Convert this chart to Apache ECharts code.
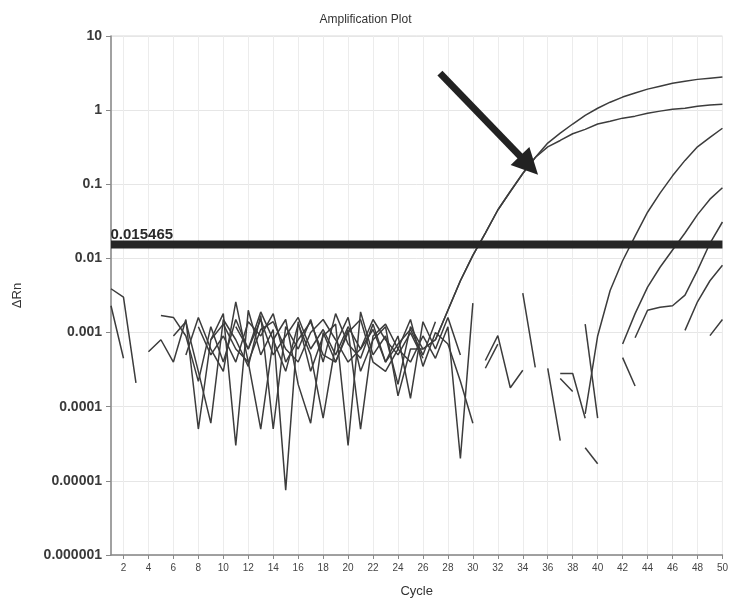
<!DOCTYPE html>
<html>
<head>
<meta charset="utf-8">
<script src="https://cdn.jsdelivr.net/npm/echarts@6/dist/echarts.min.js"></script>
<style>
html,body{margin:0;padding:0;background:#fff;}
#chart{width:731px;height:604px;}
</style>
</head>
<body>
<div id="chart"></div>
<script>
const cycles = ['1','2','3','4','5','6','7','8','9','10','11','12','13','14','15','16','17','18','19','20','21','22','23','24','25','26','27','28','29','30','31','32','33','34','35','36','37','38','39','40','41','42','43','44','45','46','47','48','49','50'];
const threshold = 0.015465;
const thresholdSpan = [1, 50];
const arrowStart = [27.36, 3.16];
const arrowEnd = [34.5, 0.18];

const sampleA1 = [0.0039, 0.0030, 0.00021, null, 0.0017, 0.0016, 0.0009, 0.00022, 0.0012, 0.0004,
  0.0015, 0.0006, 0.0019, 0.0008, 0.0003, 0.0013, 0.0005, 0.00007, 0.0007, 0.0016,
  0.0003, 0.0008, 0.0012, 0.00014, 0.0006, 0.0006, 0.0008, 0.002, 0.005, 0.011,
  0.022, 0.045, 0.08, 0.14, 0.23, 0.36, 0.49, 0.65, 0.85, 1.06,
  1.28, 1.5, 1.7, 1.92, 2.1, 2.3, 2.46, 2.6, 2.7, 2.8];
const sampleA2 = [0.0023, 0.00045, null, 0.00055, 0.0008, 0.0004, 0.0015, 0.00005, 0.0008, 0.0018,
  0.00003, 0.0020, 0.0005, 0.0011, 0.0000075, 0.0014, 0.0003, 0.0009, 0.0013, 0.00003,
  0.0019, 0.0005, 0.0009, 0.0002, 0.0012, 0.0006, 0.0008, 0.002, 0.005, 0.011,
  0.022, 0.045, 0.08, 0.14, 0.23, 0.32, 0.39, 0.48, 0.55, 0.65,
  0.71, 0.78, 0.83, 0.91, 0.97, 1.03, 1.06, 1.13, 1.17, 1.2];
const sampleB = [null, null, null, null, null, 0.0009, 0.0014, 0.0003, 0.00006, 0.0015,
  0.0008, 0.00035, 0.0017, 0.00005, 0.0012, 0.0006, 0.0015, 0.0004, 0.0018, 0.0007,
  0.00045, 0.0013, 0.0004, 0.0009, 0.00013, 0.0014, 0.0006, 0.0016, 0.0005, null,
  0.00033, 0.0007, null, null, null, null, null, null, 0.00008, 0.0009,
  0.0037, 0.0093, 0.02, 0.042, 0.076, 0.13, 0.21, 0.32, 0.43, 0.57];
const sampleC = [null, null, null, null, null, null, 0.0005, 0.0016, 0.0006, 0.0003,
  0.0026, 0.0004, 0.00005, 0.0008, 0.0015, 0.0002, 0.00006, 0.0010, 0.0004, 0.0011,
  0.00005, 0.0009, 0.0013, 0.0006, 0.0015, 0.00035, 0.0010, 0.0007, 0.00022, 0.00006,
  null, null, null, 0.0034, 0.00034, null, null, null, null, null,
  null, 0.0007, 0.0018, 0.0041, 0.0076, 0.013, 0.022, 0.039, 0.063, 0.09];
const sampleD = [null, null, null, null, null, null, null, 0.0012, 0.0005, 0.0009,
  0.0004, 0.0014, 0.0009, 0.0018, 0.0004, 0.0008, 0.0014, 0.0005, 0.0004, 0.0010,
  0.0015, 0.0004, 0.0003, 0.0006, 0.0004, 0.0009, 0.00045, 0.0012, 0.00002, 0.0025,
  null, null, null, null, null, 0.00033, 0.000035, null, null, null,
  null, null, 0.00085, 0.0020, 0.0022, 0.0023, 0.0032, 0.0069, 0.016, 0.031];
const sampleE = [null, null, null, null, null, null, null, null, 0.0008, 0.0013,
  0.0006, 0.0004, 0.0011, 0.0014, 0.0006, 0.0004, 0.0010, 0.0015, 0.0008, 0.0004,
  0.0006, 0.0011, 0.0004, 0.0007, 0.0011, 0.0005, 0.0014, null, null, null,
  0.00042, 0.00091, 0.00018, 0.00031, null, null, 0.00028, 0.00028, 0.00007, null,
  null, null, null, null, null, null, 0.00107, 0.0026, 0.005, 0.0081];
const sampleF = [null, null, null, null, null, null, null, null, null, null,
  0.0012, 0.0006, 0.0015, 0.0005, 0.0009, 0.0016, 0.0006, 0.0011, 0.0005, 0.0012,
  0.0006, 0.0015, 0.0008, 0.0005, 0.0010, 0.00045, null, null, null, null,
  null, null, null, null, null, null, 0.00024, 0.00016, null, null,
  null, 0.00046, 0.00019, null, null, null, null, null, 0.00091, 0.0015];
const sampleG = [null, null, null, null, null, null, null, null, null, null,
  null, null, null, null, null, null, null, null, null, null,
  null, null, null, null, null, null, null, null, null, null,
  null, null, null, null, null, null, null, null, 0.0013, 0.00007,
  null, null, null, null, null, null, null, null, null, null];
const sampleH = [null, null, null, null, null, null, null, null, null, null,
  null, null, null, null, null, null, null, null, null, null,
  null, null, null, null, null, null, null, null, null, null,
  null, null, null, null, null, null, null, null, 0.000028, 0.000017,
  null, null, null, null, null, null, null, null, null, null];

const samples = [sampleA1, sampleA2, sampleB, sampleC, sampleD, sampleE, sampleF, sampleG, sampleH];

const chart = echarts.init(document.getElementById('chart'), null, {renderer: 'canvas'});
const evenOnly = (i, v) => (+v) % 2 === 0;
const fmt = v => {
  const d = Math.max(0, -Math.round(Math.log10(v)));
  return v.toFixed(d);
};
const FONT = 'Liberation Sans, Arial, sans-serif';

const series = samples.map(arr => ({
  type: 'line',
  data: arr,
  showSymbol: false,
  symbol: 'none',
  connectNulls: false,
  silent: true,
  lineStyle: {color: '#3c3c3c', width: 1.5},
  z: 3
}));

// threshold line
series.push({
  type: 'line',
  xAxisIndex: 1,
  data: [[thresholdSpan[0], threshold], [thresholdSpan[1], threshold]],
  symbol: 'none',
  silent: true,
  lineStyle: {color: '#262626', width: 8},
  z: 4,
  markPoint: {
    silent: true,
    animation: false,
    symbol: 'rect',
    symbolSize: [1, 1],
    itemStyle: {color: 'transparent'},
    data: [{
      coord: [thresholdSpan[0], threshold],
      label: {
        show: true,
        formatter: '0.015465',
        position: 'right',
        offset: [-6, -10],
        color: '#2a2a2a',
        fontSize: 15,
        fontWeight: 'bold',
        fontFamily: FONT
      }
    }]
  }
});

// arrow annotation
series.push({
  type: 'line',
  xAxisIndex: 1,
  data: [arrowStart, arrowEnd],
  symbol: 'none',
  silent: true,
  lineStyle: {width: 0, opacity: 0},
  z: 6,
  markLine: {
    silent: true,
    animation: false,
    symbol: ['none', 'triangle'],
    symbolSize: [26, 26],
    label: {show: false},
    lineStyle: {color: '#222', width: 7, type: 'solid'},
    data: [[{coord: arrowStart}, {coord: arrowEnd}]]
  }
});

chart.setOption({
  animation: false,
  backgroundColor: '#fff',
  title: {
    text: 'Amplification Plot',
    left: 'center',
    top: 9,
    textStyle: {fontSize: 12, fontWeight: 'normal', color: '#333', fontFamily: FONT}
  },
  grid: {left: 111, right: 7, top: 36, bottom: 49, show: true, borderColor: '#d8d8d8', borderWidth: 1},
  xAxis: [{
    type: 'category',
    data: cycles,
    boundaryGap: false,
    name: 'Cycle',
    nameLocation: 'middle',
    nameGap: 30,
    nameTextStyle: {fontSize: 13, color: '#333', fontFamily: FONT},
    axisLine: {lineStyle: {color: '#888', width: 1.5}},
    axisTick: {show: true, interval: evenOnly, length: 4, lineStyle: {color: '#888'}},
    axisLabel: {interval: evenOnly, fontSize: 10, color: '#444', margin: 8, fontFamily: FONT},
    splitLine: {show: true, interval: evenOnly, lineStyle: {color: '#ececec', width: 1}}
  }, {
    type: 'value',
    min: 1,
    max: 50,
    show: false
  }],
  yAxis: {
    type: 'log',
    logBase: 10,
    min: 0.000001,
    max: 10,
    name: 'ΔRn',
    nameLocation: 'middle',
    nameGap: 87,
    nameRotate: 90,
    nameTextStyle: {fontSize: 13, color: '#333', fontFamily: FONT},
    axisLine: {show: true, lineStyle: {color: '#888', width: 1.5}},
    axisTick: {show: true, length: 5, lineStyle: {color: '#888'}},
    axisLabel: {formatter: fmt, fontSize: 14, fontWeight: 'bold', color: '#3a3a3a', margin: 9, fontFamily: FONT},
    splitLine: {show: true, lineStyle: {color: '#e6e6e6', width: 1}}
  },
  series: series
});
</script>
</body>
</html>
